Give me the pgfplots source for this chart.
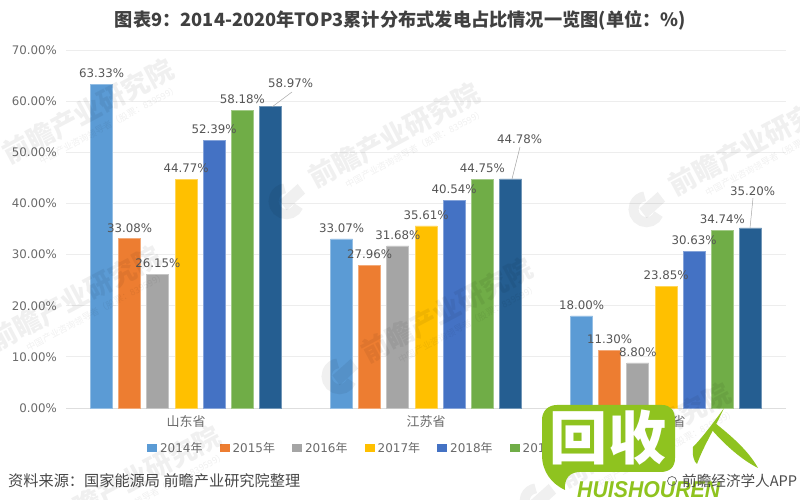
\documentclass[border=0pt]{standalone}
\usepackage{fontspec}
\usepackage{pgfplots}
\pgfplotsset{compat=1.18}
\setmainfont{DejaVu Sans}
\newfontfamily\cjk{Noto Sans CJK SC}
\newfontfamily\latinbi{Liberation Sans}
\definecolor{c1}{HTML}{5B9BD5}
\definecolor{c2}{HTML}{ED7D31}
\definecolor{c3}{HTML}{A5A5A5}
\definecolor{c4}{HTML}{FFC000}
\definecolor{c5}{HTML}{4472C4}
\definecolor{c6}{HTML}{70AD47}
\definecolor{c7}{HTML}{255E91}
\definecolor{txt}{HTML}{6A6A6A}
\definecolor{lab}{HTML}{555555}
\definecolor{lime}{HTML}{8FC31F}
\newcommand{\fs}[1]{\fontsize{#1pt}{#1pt}\selectfont}
\pgfplotsset{
 bs/.style n args={2}{ybar,bar width=22pt,bar shift=#1pt,fill=#2,draw=#2!65!white,line width=0.7pt,
   nodes near coords={\pgfmathprintnumber[fixed,fixed zerofill,precision=2,assume math mode=true]{\pgfplotspointmeta}\%},
   nodes near coords style={anchor=center,xshift=#1pt,yshift=11pt,font=\fs{11.8},text=lab,inner sep=0pt},
 },
}
\newcommand{\wm}[2]{%
 \begin{scope}[shift={(#1,#2)},rotate=28,transform shape,opacity=0.06]
  \node[font=\cjk\bfseries\fs{27},anchor=center,inner sep=0pt] at (0,0) {前瞻产业研究院};
  \node[font=\cjk\fs{9},anchor=center,inner sep=0pt] at (12,22) {中国产业咨询领导者（股票：839599）};
  \draw[line width=10pt] (-126,8) ++(50:13) arc[start angle=50,end angle=290,radius=13];
  \fill (-132,4) -- (-108,-2) -- (-106,10) -- (-130,16) -- cycle;
 \end{scope}}
\begin{document}
\begin{tikzpicture}
\useasboundingbox (0,0) rectangle (800pt,500pt);
\begin{axis}[
  at={(66pt,92pt)},anchor=south west,
  x=240pt,y=5.1143pt,
  xmin=-0.5,xmax=2.5,ymin=0,ymax=70,
  axis x line=bottom,axis y line=left,
  x axis line style={draw=black!13,-,line width=0.8pt},
  y axis line style={draw=none,-},
  major tick length=0pt,
  ytick={0,10,20,30,40,50,60,70},
  yticklabels={0.00\%,10.00\%,20.00\%,30.00\%,40.00\%,50.00\%,60.00\%,70.00\%},
  xtick={0,1,2},
  xticklabels={山东省,江苏省,浙江省},
  x tick label style={font=\cjk\fs{13},text=txt,yshift=-4pt},
  y tick label style={font=\fs{11.8},text=txt,xshift=-9pt,inner sep=0pt},
  ymajorgrids,
  grid style={draw=black!7,line width=0.8pt},
  clip=false,
  legend columns=7,
  legend image code/.code={\fill[#1,draw=none] (0pt,-4pt) rectangle (10pt,4pt);},
  legend style={at={(0.1125,-0.1117)},anchor=west,draw=none,fill=none,inner sep=0pt,outer sep=0pt,
    font=\fs{12},text=txt,
    nodes={inner sep=0pt,outer sep=0pt},
    /tikz/every even column/.append style={column sep=17pt},
    /tikz/every odd column/.append style={column sep=3pt}},
]
\addplot[bs={-84.5}{c1}] coordinates {(0,63.33) (1,33.07) (2,18.00)};
\addplot[bs={-56.3}{c2}] coordinates {(0,33.08) (1,27.96) (2,11.30)};
\addplot[bs={-28.2}{c3}] coordinates {(0,26.15) (1,31.68) (2,8.80)};
\addplot[bs={0}{c4}] coordinates {(0,44.77) (1,35.61) (2,23.85)};
\addplot[bs={28.2}{c5}] coordinates {(0,52.39) (1,40.54) (2,30.63)};
\addplot[bs={56.3}{c6}] coordinates {(0,58.18) (1,44.75) (2,34.74)};
\addplot[bs={84.5}{c7},
  coordinate style/.condition={x==0}{xshift=20pt,yshift=12pt},
  coordinate style/.condition={x==1}{xshift=9pt,yshift=29pt},
  coordinate style/.condition={x==2}{xshift=2pt,yshift=26pt},
] coordinates {(0,58.97) (1,44.78) (2,35.20)};
\legend{2014{\cjk 年},2015{\cjk 年},2016{\cjk 年},2017{\cjk 年},2018{\cjk 年},2019{\cjk 年},2020{\cjk 年}}
\end{axis}
\begin{scope}[x=1pt,y=-1pt,yshift=500pt]
 % leader lines
 \draw[black!35,line width=0.5pt] (272,107)--(292,92);
 \draw[black!35,line width=0.5pt] (512,179)--(520,147);
 \draw[black!35,line width=0.5pt] (750,228)--(753,198);
 % title and footer
 \node[text=black!75,inner sep=0pt] at (400.5,20) {\resizebox{571pt}{!}{\cjk\bfseries\fs{15}图表9：2014-2020年TOP3累计分布式发电占比情况一览图(单位：\%)}};
 \node[text=black!72,inner sep=0pt,anchor=west] at (8,481) {\resizebox{292pt}{!}{\cjk\fs{14}资料来源：国家能源局 前瞻产业研究院整理}};
 % watermarks
 \wm{88}{111}
 \wm{394}{135}
 \wm{447}{310}
 \wm{754}{143}
 \wm{75}{298}
 \wm{135}{478}
 \wm{645}{435}
 % logo
 \fill[lime] (557,405) -- (662,405) .. controls (671,405) and (675,411) .. (675,420)
   -- (675,458) .. controls (675,468) and (669,472) .. (660,472)
   -- (580,472) .. controls (570,472) and (564,478) .. (565,490)
   .. controls (552,484) and (542,472) .. (542,455)
   -- (542,420) .. controls (542,411) and (548,405) .. (557,405) -- cycle;
 \node[text=white,font=\cjk\bfseries\fs{58},inner sep=0pt] at (578,438) {回};
 \node[text=white,font=\cjk\bfseries\fs{58},inner sep=0pt] at (637,438) {收};
 \fill[lime] (724,408) .. controls (712,425) and (700,440) .. (693,447)
   .. controls (692,455) and (694,462) .. (697,464)
   .. controls (704,445) and (715,428) .. (724,408) -- cycle;
 \fill[lime] (715,423) .. controls (730,435) and (748,450) .. (758,468)
   .. controls (742,460) and (725,445) .. (712,430) -- cycle;
 \node[text=lime,inner sep=0pt,anchor=west] at (577,490) {\resizebox{143pt}{16pt}{\latinbi\bfseries\itshape HUISHOUREN}};
 \draw[black!60,line width=0.7pt] (672,481) circle (4.5);
 \node[text=black!70,inner sep=0pt,anchor=west] at (682,481) {\resizebox{115pt}{!}{\cjk\fs{14}前瞻经济学人APP}};
\end{scope}
\end{tikzpicture}
\end{document}
